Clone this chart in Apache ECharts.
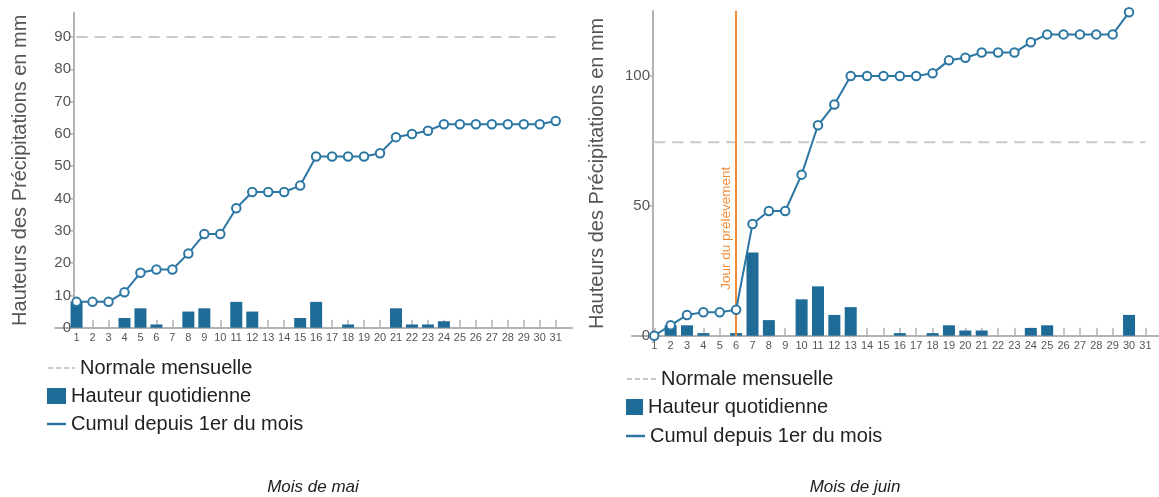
<!DOCTYPE html>
<html><head><meta charset="utf-8">
<script src="https://cdn.jsdelivr.net/npm/echarts@6/dist/echarts.min.js"></script>
<style>html,body{margin:0;padding:0;background:#fff}#c{width:1159px;height:497px}</style>
</head><body><div id="c"></div>
<script>
// ---- data ----
const days = [1,2,3,4,5,6,7,8,9,10,11,12,13,14,15,16,17,18,19,20,21,22,23,24,25,26,27,28,29,30,31];
const mayDaily = [8,null,null,3,6,1,null,5,6,null,8,5,null,null,3,8,null,1,null,null,6,1,1,2,null,null,null,null,null,null,null];
const mayCumul = [8,8,8,11,17,18,18,23,29,29,37,42,42,42,44,53,53,53,53,54,59,60,61,63,63,63,63,63,63,63,64];
const mayNormale = 90;
const junDaily = [null,4,4,1,null,1,32,6,null,14,19,8,11,null,null,1,null,1,4,2,2,null,null,3,4,null,null,null,null,8,null];
const junCumul = [0,4,8,9,9,10,43,48,48,62,81,89,100,100,100,100,100,101,106,107,109,109,109,113,116,116,116,116,116,124.5,null];
const junNormale = 74.5;
const samplingDay = 6;
const mayTicks = [0,10,20,30,40,50,60,70,80,90];
const junTicks = [0,50,100];
const names = {norm:'Normale mensuelle', daily:'Hauteur quotidienne', cum:'Cumul depuis 1er du mois'};
const yName = 'Hauteurs des Précipitations en mm';
const captions = ['Mois de mai','Mois de juin'];

// ---- styles ----
const FONT = '"Liberation Sans", Arial, sans-serif';
const BAR = '#1f6b97', LINE = '#2b76a3', AXIS = '#b3b3b3', NORM = '#c9c9c9', ORANGE = '#f38b35', TXT = '#555';

const pairs = (vals) => days.map((d,i)=>[d, vals[i]]);

function xAxisOf(gi, min, max){
  return {gridIndex:gi, type:'value', min:min, max:max,
    axisLine:{show:true, onZero:false, lineStyle:{color:AXIS, width:2}},
    axisTick:{show:true, inside:true, length:8, customValues:days, lineStyle:{color:AXIS, width:1.5}},
    axisLabel:{customValues:days, fontSize:11, color:TXT, margin:5, fontFamily:FONT},
    splitLine:{show:false}};
}
function yAxisOf(gi, max, ticks, offset, gap){
  return {gridIndex:gi, type:'value', min:0, max:max, offset:offset,
    axisLine:{show:true, lineStyle:{color:AXIS, width:2}},
    axisTick:{show:true, length:4, customValues:ticks, lineStyle:{color:AXIS, width:1.5}},
    axisLabel:{customValues:ticks, fontSize:15, color:TXT, margin:3, fontFamily:FONT},
    splitLine:{show:false},
    name:yName, nameLocation:'middle', nameGap:gap, nameRotate:90,
    nameTextStyle:{fontSize:20, color:TXT, fontFamily:FONT}};
}
function seriesOf(gi, daily, cumul, normale, withMark){
  const bar = {name:names.daily, type:'bar', xAxisIndex:gi, yAxisIndex:gi, barWidth:12,
    itemStyle:{color:BAR}, data:pairs(daily), z:2};
  if (withMark){
    bar.markLine = {symbol:'none', silent:true, animation:false,
      lineStyle:{color:ORANGE, type:'solid', width:2},
      label:{show:true, formatter:'Jour du prélèvement', position:'insideStartTop',
        color:ORANGE, fontSize:13.5, fontFamily:FONT, distance:[46,3]},
      data:[{xAxis:samplingDay}]};
  }
  return [
    {name:names.norm, type:'line', xAxisIndex:gi, yAxisIndex:gi, symbol:'none', silent:true,
      itemStyle:{color:NORM},
      lineStyle:{color:NORM, width:2, type:[11,7]}, data:[[days[0],normale],[days[days.length-1],normale]], z:1},
    bar,
    {name:names.cum, type:'line', xAxisIndex:gi, yAxisIndex:gi, symbol:'emptyCircle', symbolSize:8.5,
      itemStyle:{color:LINE, borderColor:'#5d9cc4', borderWidth:1.5},
      lineStyle:{color:LINE, width:2}, data:pairs(cumul), z:5}
  ];
}
function legendsOf(x, tops, normW, barW){
  const ts = {fontSize:20, color:'#222', fontFamily:FONT};
  return [
    {left:x, top:tops[0], orient:'vertical', padding:0, itemWidth:normW, itemHeight:14, textStyle:ts,
      itemStyle:{opacity:0}, lineStyle:{type:[5,3], width:2, color:NORM}, data:[{name:names.norm}]},
    {left:x, top:tops[1], orient:'vertical', padding:0, itemWidth:barW, itemHeight:16, textStyle:ts,
      data:[{name:names.daily, icon:'rect'}]},
    {left:x, top:tops[2], orient:'vertical', padding:0, itemWidth:19, itemHeight:2.5, textStyle:ts,
      data:[{name:names.cum, icon:'rect', itemStyle:{color:LINE, borderWidth:0}}]}
  ];
}

const chart = echarts.init(document.getElementById('c'), null, {renderer:'canvas'});
chart.setOption({
  animation:false,
  backgroundColor:'#fff',
  textStyle:{fontFamily:FONT},
  title:[
    {text:captions[0], left:313, top:479, textAlign:'center', padding:0,
      textStyle:{fontSize:17, fontStyle:'italic', fontWeight:'normal', color:'#222', fontFamily:FONT}},
    {text:captions[1], left:855, top:479, textAlign:'center', padding:0,
      textStyle:{fontSize:17, fontStyle:'italic', fontWeight:'normal', color:'#222', fontFamily:FONT}}
  ],
  legend:[].concat(legendsOf(47,[358,386,414],27,19), legendsOf(626,[369,397,426],29,17)),
  grid:[
    {left:55, top:12.8, width:517, height:314.9},
    {left:632, top:11, width:527, height:324.7}
  ],
  xAxis:[xAxisOf(0,-0.35,32.02), xAxisOf(1,-0.36,31.83)],
  yAxis:[yAxisOf(0,97.5,mayTicks,-19,44), yAxisOf(1,125,junTicks,-21,46)],
  series:[].concat(seriesOf(0,mayDaily,mayCumul,mayNormale,false), seriesOf(1,junDaily,junCumul,junNormale,true))
});
</script></body></html>
